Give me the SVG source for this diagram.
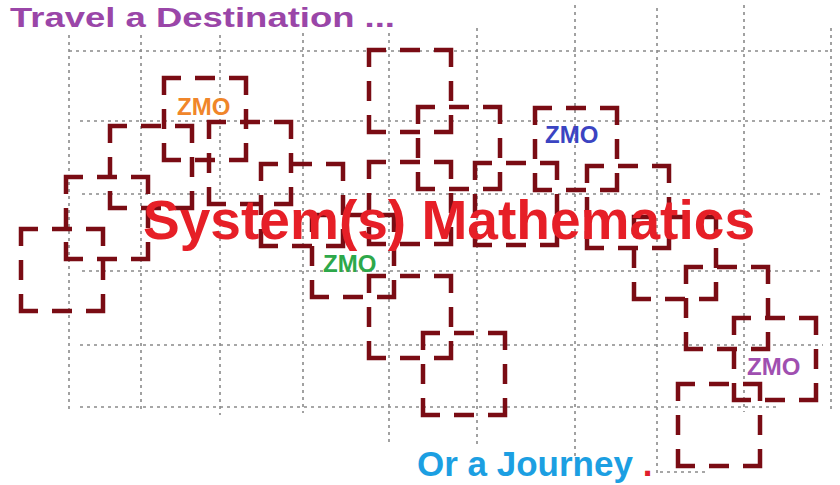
<svg xmlns="http://www.w3.org/2000/svg" width="840" height="485" viewBox="0 0 840 485">
<style>
.g{stroke:#8a8a8a;stroke-width:1.6;stroke-dasharray:3 4;fill:none}
.b{fill:none;stroke:#7a0c14;stroke-width:4.5;stroke-dasharray:34 14 20 14;stroke-dashoffset:17}
.t{font-family:"Liberation Sans",Arial,sans-serif;font-weight:bold}
.z{font-family:"Liberation Sans",Arial,sans-serif;font-weight:bold;font-size:24px}
</style>
<rect width="840" height="485" fill="#ffffff"/>
<g id="grid">
<line class="g" x1="69" y1="35" x2="69" y2="413"/>
<line class="g" x1="141" y1="35" x2="141" y2="413"/>
<line class="g" x1="220" y1="35" x2="220" y2="415"/>
<line class="g" x1="303" y1="33" x2="303" y2="413"/>
<line class="g" x1="389" y1="33" x2="389" y2="445"/>
<line class="g" x1="477" y1="28" x2="477" y2="448"/>
<line class="g" x1="575" y1="5" x2="575" y2="460"/>
<line class="g" x1="657" y1="8" x2="657" y2="473"/>
<line class="g" x1="744" y1="5" x2="744" y2="412"/>
<line class="g" x1="831" y1="28" x2="831" y2="412"/>
<line class="g" x1="69" y1="51" x2="831" y2="51"/>
<line class="g" x1="80" y1="121" x2="831" y2="121"/>
<line class="g" x1="82" y1="194" x2="822" y2="194"/>
<line class="g" x1="82" y1="271" x2="822" y2="271"/>
<line class="g" x1="80" y1="345" x2="823" y2="345"/>
<line class="g" x1="80" y1="407" x2="780" y2="407"/>
<line class="g" x1="660" y1="472" x2="707" y2="472"/>
</g>
<g id="boxes">
<g id="boxA"><rect class="b" x="164" y="78" width="82" height="82"/></g>
<g id="boxB"><rect class="b" x="110" y="126" width="82" height="82"/></g>
<g id="boxC"><rect class="b" x="209" y="122" width="82" height="82"/></g>
<g id="boxD"><rect class="b" x="66" y="177" width="82" height="82"/></g>
<g id="boxE"><rect class="b" x="21" y="229" width="82" height="82"/></g>
<g id="boxF"><rect class="b" x="369" y="50" width="82" height="82"/></g>
<g id="boxG"><rect class="b" x="418" y="107" width="82" height="82"/></g>
<g id="boxH"><rect class="b" x="535" y="108" width="82" height="82"/></g>
<g id="boxI"><rect class="b" x="261" y="164" width="82" height="82"/></g>
<g id="boxJ"><rect class="b" x="369" y="162" width="82" height="82"/></g>
<g id="boxK"><rect class="b" x="475" y="163" width="82" height="82"/></g>
<g id="boxL"><rect class="b" x="587" y="166" width="82" height="82"/></g>
<g id="boxM"><rect class="b" x="634" y="217" width="82" height="82"/></g>
<g id="boxN"><rect class="b" x="686" y="267" width="82" height="82"/></g>
<g id="boxO"><rect class="b" x="734" y="318" width="82" height="82"/></g>
<g id="boxP"><rect class="b" x="678" y="384" width="82" height="82"/></g>
<g id="boxQ"><rect class="b" x="312" y="215" width="82" height="82"/></g>
<g id="boxR"><rect class="b" x="369" y="276" width="82" height="82"/></g>
<g id="boxS"><rect class="b" x="423" y="333" width="82" height="82"/></g>
</g>
<g id="labels">
<text class="z" x="177" y="115" fill="#f0862a">ZMO</text>
<text class="z" x="545" y="143" fill="#3b44c2">ZMO</text>
<text class="z" x="323" y="272" fill="#2da84a">ZMO</text>
<text class="z" x="747" y="375" fill="#a04fb0">ZMO</text>
</g>
<g id="titles">
<text class="t" x="10" y="27" font-size="28" fill="#9a46a8" textLength="385" lengthAdjust="spacingAndGlyphs">Travel a Destination ...</text>
<text class="t" x="143" y="239" font-size="56" fill="#e61f27" textLength="612" lengthAdjust="spacingAndGlyphs">System(s) Mathematics</text>
<text class="t" x="417" y="476" font-size="35" fill="#1c9fe2">Or a Journey <tspan fill="#e0202a">.</tspan></text>
</g>
</svg>
